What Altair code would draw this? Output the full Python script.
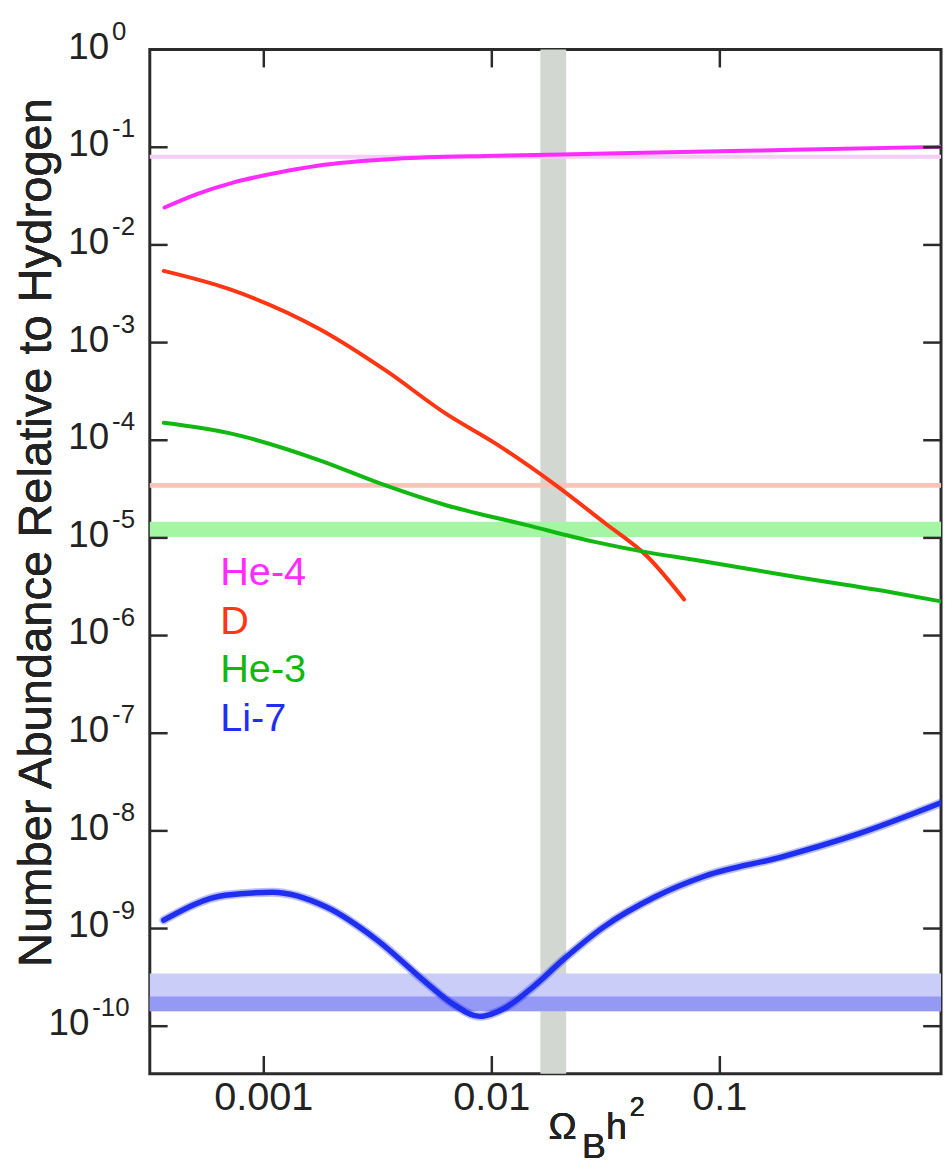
import altair as alt
import pandas as pd

FONT = "Liberation Sans"

# ---------------- data ----------------
series_names = ["He-4", "D", "He-3", "Li-7"]

he4_x = [0.000367, 0.000516, 0.000733, 0.00115, 0.00172, 0.00383, 0.0104, 0.0283, 0.0771, 0.21, 0.933]
he4_y = [0.0242, 0.0336, 0.0435, 0.0549, 0.0647, 0.0762, 0.0818, 0.0857, 0.0898, 0.0941, 0.101]

d_x = [0.000364, 0.000697, 0.00177, 0.00346, 0.00631, 0.0104, 0.0186, 0.0313, 0.0482, 0.0697]
d_y = [5.42e-3, 3.56e-3, 1.36e-3, 5.09e-4, 1.86e-4, 9.23e-5, 3.62e-5, 1.42e-5, 6.41e-6, 2.34e-6]

he3_x = [0.000364, 0.000697, 0.00177, 0.00323, 0.00631, 0.0141, 0.0283, 0.0468, 0.0771, 0.21, 0.571, 0.933]
he3_y = [1.51e-4, 1.19e-4, 6.2e-5, 3.62e-5, 2.16e-5, 1.36e-5, 9.1e-6, 7.2e-6, 5.98e-6, 4.02e-6, 2.76e-6, 2.24e-6]

li7_x = [0.000364, 0.000676, 0.00109, 0.00188, 0.00313, 0.00521, 0.0067, 0.00887, 0.01116,
         0.01524, 0.02056, 0.031, 0.0516, 0.0861, 0.186, 0.398, 0.933]
li7_y = [1.22e-9, 2.19e-9, 2.35e-9, 1.66e-9, 7.66e-10, 2.73e-10, 1.71e-10, 1.26e-10, 1.49e-10,
         2.55e-10, 4.8e-10, 1.04e-9, 2.09e-9, 3.45e-9, 5.4e-9, 9.2e-9, 1.94e-8]

# observational bands
band_names = ["He-4 obs", "D obs", "He-3 obs", "Li-7 obs wide", "Li-7 obs"]
band_lo = [0.0762, 3.26e-5, 1.02e-5, 1.42e-10, 1.42e-10]
band_hi = [0.0837, 3.66e-5, 1.46e-5, 3.46e-10, 2.02e-10]

# vertical (Omega_B h^2) band
omega_lo = [0.01633]
omega_hi = [0.02119]

# ticks
x_ticks = [0.001, 0.01, 0.1]
x_tick_labels = ["0.001", "0.01", "0.1"]
y_ticks = [1, 1e-1, 1e-2, 1e-3, 1e-4, 1e-5, 1e-6, 1e-7, 1e-8, 1e-9, 1e-10]
y_tick_exps = ["0", "-1", "-2", "-3", "-4", "-5", "-6", "-7", "-8", "-9", "-10"]

# ---------------- tables ----------------
rows = []
for name, xs, ys in [("He-4", he4_x, he4_y), ("D", d_x, d_y), ("He-3", he3_x, he3_y), ("Li-7", li7_x, li7_y)]:
    for xv, yv in zip(xs, ys):
        rows.append({"series": name, "x": xv, "y": yv})
curves = pd.DataFrame(rows)
bands = pd.DataFrame({"name": band_names, "lo": band_lo, "hi": band_hi})
omega = pd.DataFrame({"lo": omega_lo, "hi": omega_hi})
yt = pd.DataFrame({"v": y_ticks, "e": y_tick_exps})
xt = pd.DataFrame({"v": x_ticks})
xl = pd.DataFrame({"v": x_ticks, "t": x_tick_labels})
leg = pd.DataFrame({"series": series_names, "i": list(range(len(series_names)))})

# ---------------- scales / styles ----------------
W, H = 798, 1033
TICK = 18
TICK_COLOR = "#2b2b2b"
TEXT_COLOR = "#222"
xscale = alt.Scale(type="log", domain=[10 ** -3.5, 10 ** -0.03], nice=False)
yscale = alt.Scale(type="log", domain=[10 ** -10.488, 1], nice=False)
color_scale = alt.Scale(domain=series_names, range=["#ff2bff", "#ff3613", "#12b812", "#1f2ff0"])
band_fill = alt.Scale(domain=band_names, range=["#f6cdf6", "#f8c4b8", "#a4f5a4", "#c9cdf8", "#9499f6"])

# ---------------- layers ----------------
omega_band = alt.Chart(omega).mark_rect(color="#d2d7d2").encode(
    x=alt.X("lo:Q", scale=xscale, axis=None),
    x2="hi:Q",
)

obs_bands = alt.Chart(bands).mark_rect().encode(
    y=alt.Y("lo:Q", scale=yscale, axis=None),
    y2="hi:Q",
    fill=alt.Fill("name:N", scale=band_fill, legend=None),
)

line_base = alt.Chart(curves).encode(
    x=alt.X("x:Q", scale=xscale, axis=None),
    y=alt.Y("y:Q", scale=yscale, axis=None),
    color=alt.Color("series:N", scale=color_scale, legend=None),
)
thin_lines = line_base.transform_filter("datum.series != 'Li-7'").mark_line(
    interpolate="monotone", clip=True, strokeCap="round", strokeJoin="round", strokeWidth=4)
li_glow = line_base.transform_filter("datum.series == 'Li-7'").mark_line(
    interpolate="monotone", clip=True, strokeCap="round", strokeJoin="round",
    strokeWidth=9, opacity=0.3)
li_line = line_base.transform_filter("datum.series == 'Li-7'").mark_line(
    interpolate="monotone", clip=True, strokeCap="round", strokeJoin="round", strokeWidth=5.5)

# inward ticks on all four sides
tick_x_bottom = alt.Chart(xt).mark_rule(color=TICK_COLOR, strokeWidth=2.5).encode(
    x=alt.X("v:Q", scale=xscale, axis=None), y=alt.value(H - TICK), y2=alt.value(H))
tick_x_top = alt.Chart(xt).mark_rule(color=TICK_COLOR, strokeWidth=2.5).encode(
    x=alt.X("v:Q", scale=xscale, axis=None), y=alt.value(0), y2=alt.value(TICK))
tick_y_left = alt.Chart(yt).mark_rule(color=TICK_COLOR, strokeWidth=2.5).encode(
    y=alt.Y("v:Q", scale=yscale, axis=None), x=alt.value(0), x2=alt.value(TICK))
tick_y_right = alt.Chart(yt).mark_rule(color=TICK_COLOR, strokeWidth=2.5).encode(
    y=alt.Y("v:Q", scale=yscale, axis=None), x=alt.value(W - TICK), x2=alt.value(W))

# x tick labels
xlab = alt.Chart(xl).mark_text(align="center", baseline="top", fontSize=40, font=FONT,
                                color=TEXT_COLOR).encode(
    x=alt.X("v:Q", scale=xscale, axis=None),
    y=alt.value(H + 4),
    text="t:N",
)

# y tick labels: "10" with a raised exponent
ylab_base = alt.Chart(yt).transform_calculate(
    px="length(datum.e) > 2 ? -61 : -41"
).mark_text(text="10", align="right", baseline="alphabetic", dy=9, fontSize=37,
            font=FONT, color=TEXT_COLOR).encode(
    x=alt.X("px:Q", scale=None, axis=None),
    y=alt.Y("v:Q", scale=yscale, axis=None),
)

ylab_exp = alt.Chart(yt).transform_calculate(
    px="(length(datum.e) > 2 ? -61 : -41) + 3"
).mark_text(align="left", baseline="alphabetic", dy=-10, fontSize=26,
            font=FONT, color=TEXT_COLOR).encode(
    x=alt.X("px:Q", scale=None, axis=None),
    y=alt.Y("v:Q", scale=yscale, axis=None),
    text="e:N",
)

legend_text = alt.Chart(leg).transform_calculate(
    ly="540 + 49 * datum.i"
).mark_text(align="left", baseline="alphabetic", fontSize=40, font=FONT).encode(
    x=alt.value(71),
    y=alt.Y("ly:Q", scale=None, axis=None),
    text="series:N",
    color=alt.Color("series:N", scale=color_scale, legend=None),
)

y_title = alt.Chart(leg).mark_text(
    text="Number Abundance Relative to Hydrogen", angle=270, align="center",
    baseline="alphabetic", fontSize=47.5, font=FONT, color=TEXT_COLOR
).encode(x=alt.value(-100), y=alt.value(487))

def label_piece(txt, x, y, size):
    return alt.Chart(leg).mark_text(text=txt, align="left", baseline="alphabetic",
                                    fontSize=size, font=FONT, color=TEXT_COLOR).encode(
        x=alt.value(x), y=alt.value(y))

x_title = (label_piece("Ω", 402, 1099, 38) + label_piece("B", 436, 1118, 36)
           + label_piece("h", 460, 1099, 38) + label_piece("2", 484, 1076, 27))

chart = alt.layer(
    omega_band, obs_bands, thin_lines, li_glow, li_line,
    tick_x_bottom, tick_x_top, tick_y_left, tick_y_right,
    xlab, ylab_base, ylab_exp, legend_text, y_title, x_title
).properties(
    width=W, height=H,
    autosize=alt.AutoSizeParams(type="none"),
    padding={"left": 143, "top": 37, "right": 3, "bottom": 92},
).configure_view(
    stroke="#2b2b2b", strokeWidth=3
)

chart.save("out.html", embed_options={"renderer": "svg", "actions": False})
